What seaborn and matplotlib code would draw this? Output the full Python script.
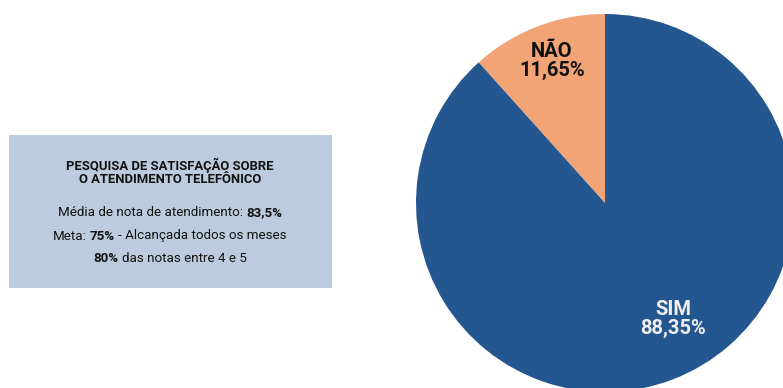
import matplotlib
matplotlib.use("Agg")
import matplotlib.pyplot as plt
import seaborn as sns
from matplotlib.patches import Rectangle
from matplotlib.offsetbox import TextArea, HPacker, AnnotationBbox

# data
categories = ["NÃO", "SIM"]
values = [11.65, 88.35]
value_labels = ["11,65%", "88,35%"]
colors = ["#F2A476", "#24568F"]

title_lines = ["PESQUISA DE SATISFAÇÃO SOBRE", "O ATENDIMENTO TELEFÔNICO"]
info_lines = [
    [("Média de nota de atendimento:", "normal"), ("83,5%", "bold")],
    [("Meta:", "normal"), ("75%", "bold"), ("- Alcançada todos os meses", "normal")],
    [("80%", "bold"), ("das notas entre 4 e 5", "normal")],
]

sns.set_theme(style="white")
plt.rcParams["font.family"] = ["Roboto", "DejaVu Sans"]

W, H = 783, 388
fig = plt.figure(figsize=(W / 100, H / 100), dpi=100)
ax = fig.add_axes([0, 0, 1, 1])
ax.set_xlim(0, W)
ax.set_ylim(0, H)
ax.set_aspect("equal")
ax.axis("off")

cx, cy, r = 605, H - 203, 189
wedges, _ = ax.pie(values, colors=colors, startangle=90, counterclock=True,
                   center=(cx, cy), radius=r, frame=True,
                   wedgeprops=dict(linewidth=0))
ax.set_xlim(0, W)
ax.set_ylim(0, H)
ax.axis("off")

ax.text(552, H - 61, f"{categories[0]}\n{value_labels[0]}", ha="center", va="center",
        fontsize=14.5, fontweight="bold", color="#111111", linespacing=0.95)
ax.text(673, H - 319, f"{categories[1]}\n{value_labels[1]}", ha="center", va="center",
        fontsize=14.5, fontweight="bold", color="#F0F0F0", linespacing=0.95)

# info box
ax.add_patch(Rectangle((9, H - 288), 323, 153, facecolor="#BCCCDE", edgecolor="none"))
ax.text(170, H - 172, "\n".join(title_lines), ha="center", va="center",
        fontsize=9.4, fontweight="bold", color="#111111", linespacing=1.05)

for ypix, parts in zip([213, 236, 258], info_lines):
    areas = [TextArea(t, textprops=dict(fontsize=9.6, fontweight=w, color="#111111"))
             for t, w in parts]
    pack = HPacker(children=areas, pad=0, sep=2.2, align="baseline")
    ab = AnnotationBbox(pack, (170, H - ypix), xycoords="data", frameon=False,
                        box_alignment=(0.5, 0.5), pad=0)
    ax.add_artist(ab)

fig.savefig("out.png", dpi=100)
